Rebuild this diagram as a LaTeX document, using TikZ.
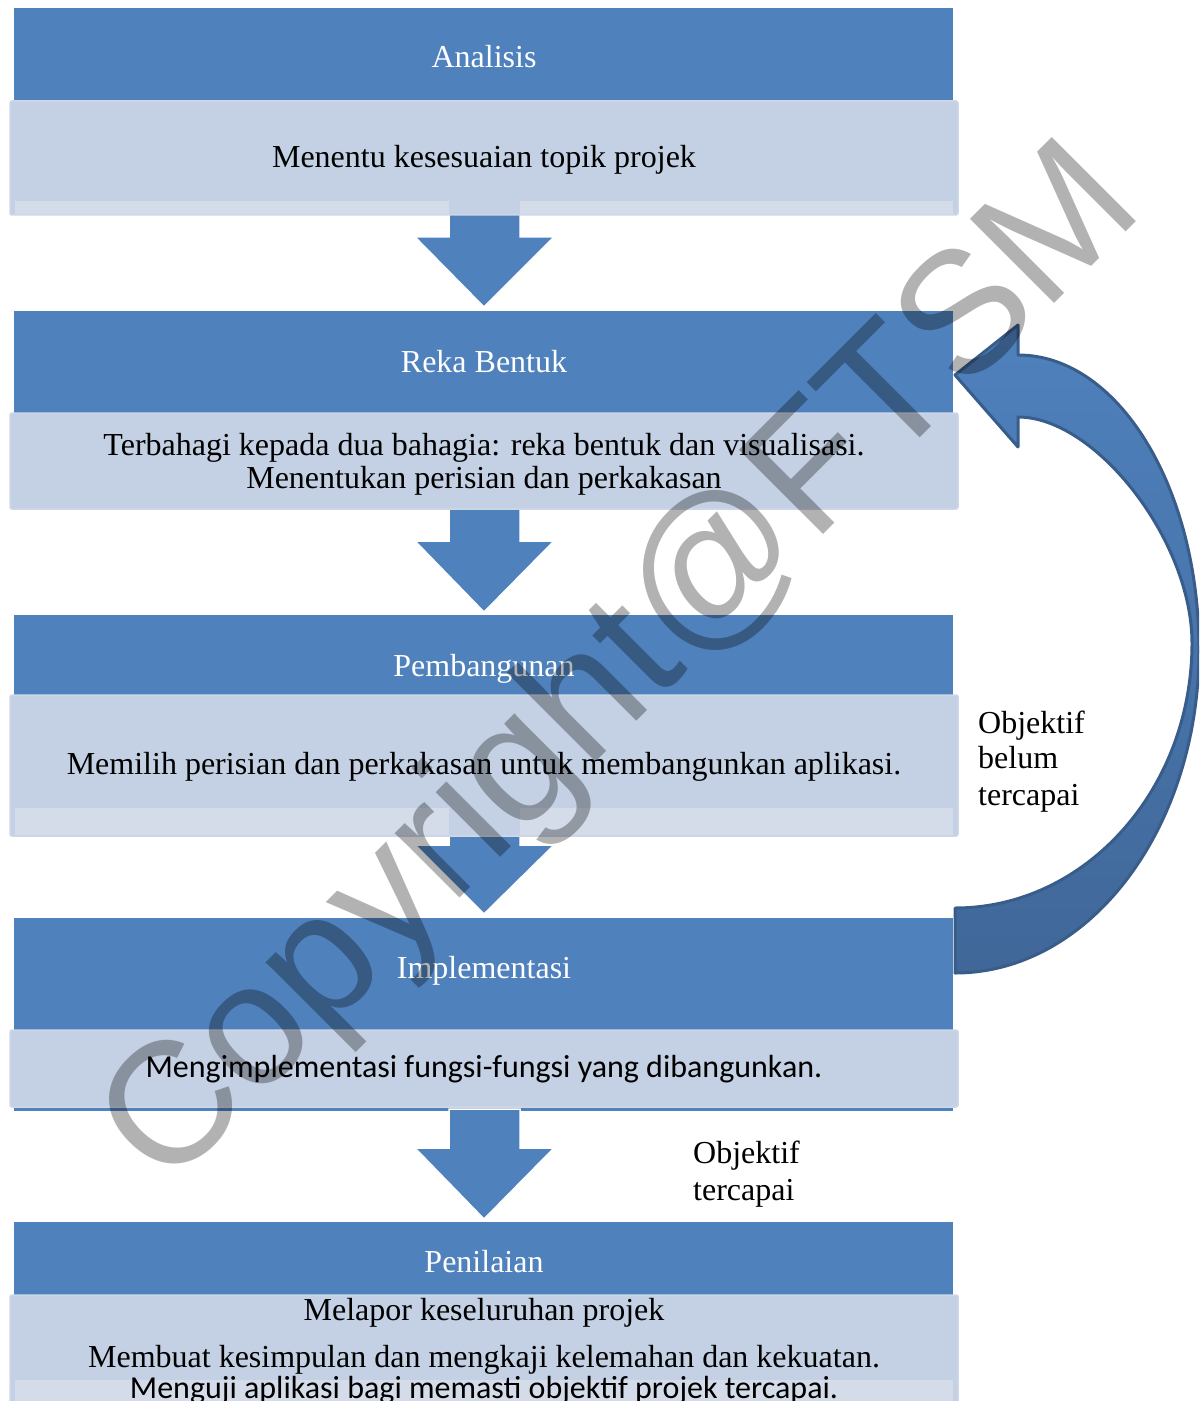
\documentclass[tikz,border=0pt]{standalone}
\usepackage{fontspec}
\setmainfont{Liberation Serif}
\newfontfamily\calfont{Carlito}
\newfontfamily\wmfont{Liberation Sans}
\definecolor{hdr}{RGB}{79,129,189}
\definecolor{lbox}{RGB}{196,208,227}
\definecolor{lband}{RGB}{212,220,234}
\definecolor{lborder}{RGB}{206,215,231}
\definecolor{arrdark}{RGB}{56,93,138}
\definecolor{arrlow}{RGB}{64,103,152}
\begin{document}
\begin{tikzpicture}[x=1bp,y=-1bp,
  lightbox/.style={fill=lbox, draw=lborder, line width=1.5bp, rounded corners=2bp},
  bandbox/.style={fill=lband},
  downarrow/.style={fill=hdr, draw=white, line width=1.5bp, line join=miter},
  htext/.style={text=white, font=\fontsize{32bp}{33bp}\selectfont, inner sep=0pt, anchor=base},
  btext/.style={text=black, font=\fontsize{32bp}{33bp}\selectfont, inner sep=0pt, anchor=base},
  ctext/.style={text=black, font=\calfont\fontsize{32bp}{33bp}\selectfont, inner sep=0pt, anchor=base},
  ltext/.style={btext, anchor=base west},
  wmark/.style={text=black, text opacity=0.3, font=\wmfont\fontsize{173bp}{173bp}\selectfont, inner sep=0pt}]
\useasboundingbox (0,0) rectangle (1199,1401);
\clip (0,0) rectangle (1199,1401);
% headers
\fill[hdr] (14,8) rectangle (953,101);
\fill[hdr] (14,311) rectangle (953,413);
\fill[hdr] (14,615) rectangle (953,695);
\fill[hdr] (14,918) rectangle (953,1111);
\fill[hdr] (14,1222) rectangle (953,1296);
% down arrows
\foreach \a/\b/\c in {195/237/307, 505/541/612, 830/845/914, 1109/1148/1219}{
  \draw[downarrow] (449,\a) -- (449,\b) -- (415,\b) -- (484,\c) -- (554,\b) -- (520,\b) -- (520,\a) -- cycle;
}
% light boxes
\draw[lightbox] (10,101) rectangle (958,215);
\fill[bandbox] (15,201) rectangle (449,214);
\fill[bandbox] (520,201) rectangle (953,214);
\draw[lightbox] (10,413) rectangle (958,509);
\draw[lightbox] (10,695) rectangle (958,836);
\fill[bandbox] (15,808) rectangle (449,835);
\fill[bandbox] (520,808) rectangle (953,835);
\draw[lightbox] (10,1030) rectangle (958,1107);
\draw[lightbox] (10,1295) rectangle (958,1420);
\fill[bandbox] (15,1380) rectangle (953,1420);
% curved return arrow
\shadedraw[top color=hdr, bottom color=arrlow, draw=arrdark, line width=3bp, line join=round]
 (955,375) -- (1018,325) -- (1018,355)
 .. controls (1118,355) and (1199,487) .. (1199,650)
 .. controls (1199,828) and (1090,973) .. (955,973)
 -- (955,908)
 .. controls (1086,908) and (1192,789) .. (1192,643)
 .. controls (1192,541) and (1096,417) .. (1018,417)
 -- (1018,447) -- cycle;
% texts
\node[htext] (t1) at (484,68) {Analisis};
\node[btext] (b1) at (484,168) {Menentu kesesuaian topik projek};
\node[htext] (t2) at (484,372) {Reka Bentuk};
\node[btext] (b2a) at (484,455) {Terbahagi kepada dua bahagia: reka bentuk dan visualisasi.};
\node[btext] (b2b) at (484,488) {Menentukan perisian dan perkakasan};
\node[htext] (t3) at (484,676) {Pembangunan};
\node[btext] (b3) at (484,774) {Memilih perisian dan perkakasan untuk membangunkan aplikasi.};
\node[htext] (t4) at (484,978) {Implementasi};
\node[ctext] (b4) at (484,1077) {Mengimplementasi fungsi-fungsi yang dibangunkan.};
\node[ltext] (l1a) at (693,1163) {Objektif};
\node[ltext] (l1b) at (693,1200) {tercapai};
\node[htext] (t5) at (484,1272) {Penilaian};
\node[btext] (b5a) at (484,1320) {Melapor keseluruhan projek};
\node[btext] (b5b) at (484,1367) {Membuat kesimpulan dan mengkaji kelemahan dan kekuatan.};
\node[ctext] (b5c) at (484,1398) {Menguji aplikasi bagi memasti objektif projek tercapai.};
\node[ltext] (l2a) at (978,733) {Objektif};
\node[ltext] (l2b) at (978,768) {belum};
\node[ltext] (l2c) at (978,805) {tercapai};
% watermark
\node[wmark, rotate=45, anchor=base west] (wm) at (166,1192) {Copyright@FTSM};
\end{tikzpicture}
\end{document}
